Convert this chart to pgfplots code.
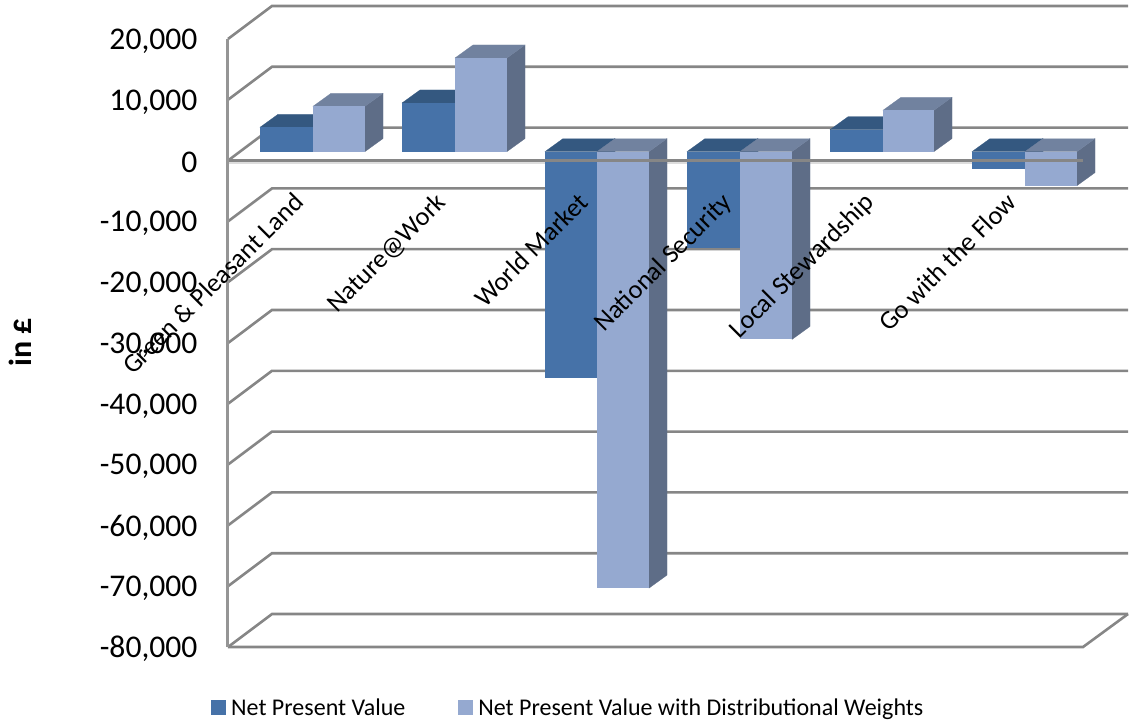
\documentclass[border=0pt]{standalone}
\usepackage{fontspec}
\setmainfont{Carlito}
\usepackage{pgfplots}
\pgfplotsset{compat=1.18}

\definecolor{gridgray}{HTML}{868686}
\definecolor{wallgray}{HTML}{959595}
\definecolor{gridshade}{HTML}{DDDDDD}
\definecolor{npvfront}{HTML}{4672A8}
\definecolor{npvtop}{HTML}{345880}
\definecolor{npvside}{HTML}{2F5075}
\definecolor{dwfront}{HTML}{95A9D0}
\definecolor{dwtop}{HTML}{71829F}
\definecolor{dwside}{HTML}{5E6D87}

% Plot units: x runs in points along the floor, y in pounds.
% A bar stands 1480 above the true zero of the front plane; its depth
% is 18 across and 2138 up. The back wall sits 44 across and 5428 up.
% Arguments: left x, right x, value, front, top and side colours.
\newcommand{\valuebar}[6]{%
  \edef\ybase{1480}%
  \edef\yend{\the\numexpr #3+1480\relax}%
  \ifnum#3>0 \edef\ylevel{\yend}\else\edef\ylevel{\ybase}\fi
  \edef\ylevelback{\the\numexpr \ylevel+2138\relax}%
  \edef\yendback{\the\numexpr \yend+2138\relax}%
  \edef\ybaseback{\the\numexpr \ybase+2138\relax}%
  \edef\xl{\the\numexpr #1+18\relax}%
  \edef\xr{\the\numexpr #2+18\relax}%
  \addplot[fill=#6,draw=#6,line width=0.2pt,forget plot] coordinates
    {(#2,\ybase) (\xr,\ybaseback) (\xr,\yendback) (#2,\yend)} --cycle;
  \addplot[fill=#5,draw=#5,line width=0.2pt,forget plot] coordinates
    {(#1,\ylevel) (\xl,\ylevelback) (\xr,\ylevelback) (#2,\ylevel)} --cycle;
  \addplot[fill=#4,draw=none,forget plot] coordinates
    {(#1,\ybase) (#2,\ybase) (#2,\yend) (#1,\yend)} --cycle;
}

\begin{document}
\begin{tikzpicture}
\path[use as bounding box] (-228pt,-77pt) rectangle (903pt,647pt);
\begin{axis}[
  at={(0pt,0pt)}, anchor=south west,
  scale only axis, width=855pt, height=608pt,
  clip=false, axis on top,
  xmin=228, xmax=1083, ymin=-80000, ymax=20000,
  axis x line=middle, axis y line=left,
  x axis line style={draw=gridgray,line width=2.6pt,-},
  y axis line style={draw=wallgray,line width=3pt,-},
  major tick length=0pt,
  xtick={312,454,597,740,882,1025},
  xticklabels={Green \& Pleasant Land,Nature@Work,World Market,National Security,Local Stewardship,Go with the Flow},
  x tick label style={rotate=45,anchor=north east,font=\fontsize{26.3}{30}\selectfont,xshift=-32pt,yshift=-4pt},
  ytick={-80000,-70000,-60000,-50000,-40000,-30000,-20000,-10000,0,10000,20000},
  scaled y ticks=false,
  /pgf/number format/1000 sep={,},
  /pgf/number format/assume math mode=true,
  y tick label style={font=\fontsize{31.6}{36}\selectfont,xshift=-27pt,yshift=-2pt,anchor=east},
  ylabel={in £},
  every axis y label/.style={at={(axis cs:20,-29934)},rotate=90,anchor=center,font=\fontsize{32}{36}\selectfont\bfseries},
  legend style={at={(axis cs:208,-89967)},anchor=west,draw=none,fill=none,
    legend columns=2,font=\fontsize{24}{28}\selectfont,
    /tikz/every even column/.append style={column sep=51pt}},
  legend cell align=left,
]
% walls: diagonal and back-wall gridline at each major tick
\pgfplotsinvokeforeach{-80000,-70000,-60000,-50000,-40000,-30000,-20000,-10000,0,10000,20000}{
  \edef\yback{\the\numexpr #1+5428\relax}
  \addplot[draw=gridgray,line width=2.6pt,forget plot] coordinates {(228,#1) (272,\yback) (1128,\yback)};
}
% floor edges
\addplot[draw=gridgray,line width=2.6pt,forget plot] coordinates {(228,-80000) (1083,-80000) (1128,-74572)};
\addplot[draw=gridshade,line width=1.4pt,forget plot] coordinates {(228,-400) (1083,-400)};

% Net Present Value and the distributionally weighted series, scenario by scenario
\valuebar{260}{313}{4000}{npvfront}{npvtop}{npvside}
\valuebar{313}{365}{7450}{dwfront}{dwtop}{dwside}
\valuebar{402}{455}{8000}{npvfront}{npvtop}{npvside}
\valuebar{455}{507}{15400}{dwfront}{dwtop}{dwside}
\valuebar{545}{597}{-37170}{npvfront}{npvtop}{npvside}
\valuebar{597}{649}{-71800}{dwfront}{dwtop}{dwside}
\valuebar{687}{740}{-15800}{npvfront}{npvtop}{npvside}
\valuebar{740}{792}{-30900}{dwfront}{dwtop}{dwside}
\valuebar{830}{883}{3600}{npvfront}{npvtop}{npvside}
\valuebar{883}{934}{6800}{dwfront}{dwtop}{dwside}
\valuebar{972}{1025}{-2900}{npvfront}{npvtop}{npvside}
\valuebar{1025}{1077}{-5600}{dwfront}{dwtop}{dwside}

\addlegendimage{area legend,draw=none,fill=npvfront,
  legend image code/.code={\fill[npvfront] (0pt,-7.5pt) rectangle (15pt,7.5pt); \path (18pt,0pt);}}
\addlegendentry{Net Present Value}
\addlegendimage{area legend,draw=none,fill=dwfront,
  legend image code/.code={\fill[dwfront] (0pt,-7.5pt) rectangle (15pt,7.5pt); \path (18pt,0pt);}}
\addlegendentry{Net Present Value with Distributional Weights}
\end{axis}
\end{tikzpicture}
\end{document}
